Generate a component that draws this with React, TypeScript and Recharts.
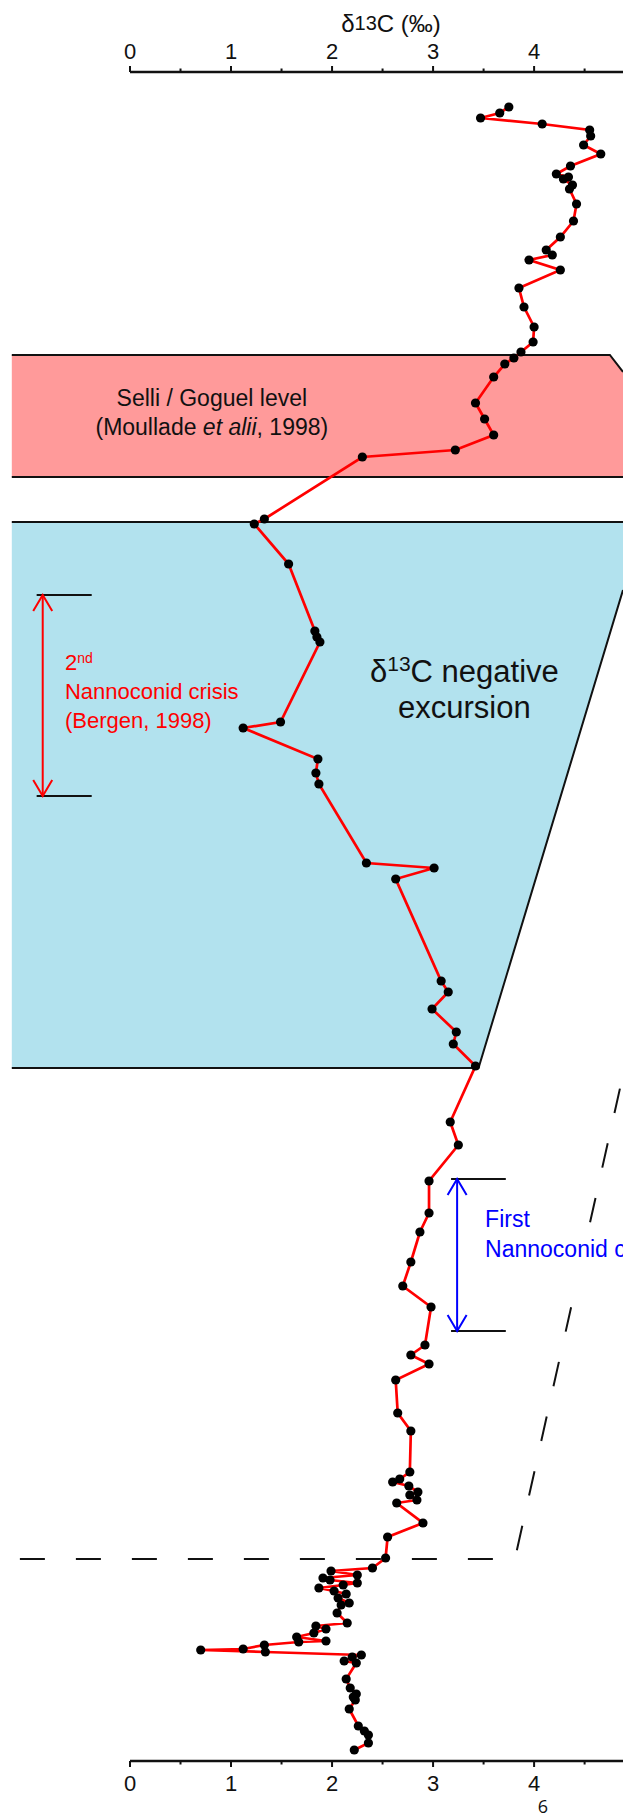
import { LineChart, Line, XAxis, YAxis } from 'recharts'

// δ13C (‰) against height above the base of the log (m), top to bottom
const d13c = [
  3.75, 3.66, 3.47, 4.08, 4.55, 4.56, 4.49, 4.66, 4.36, 4.22, 4.34, 4.29, 4.38, 4.35, 4.42,
  4.39, 4.26, 4.12, 4.18, 3.95, 4.26, 3.85, 3.9, 4.0, 3.99, 3.87, 3.8, 3.71, 3.6,
  3.42, 3.51, 3.6, 3.22, 2.3, 1.33, 1.23, 1.57, 1.83, 1.85, 1.88, 1.49, 1.12,
  1.86, 1.84, 1.87, 2.34, 3.01, 2.63, 3.08, 3.15, 2.99, 3.23, 3.2, 3.42,
  3.17, 3.25, 2.96, 2.96, 2.87, 2.78, 2.7, 2.98, 2.92, 2.78, 2.96, 2.63, 2.65, 2.78,
  2.77, 2.67, 2.6, 2.76, 2.85, 2.77, 2.84, 2.64, 2.9, 2.55, 2.53, 2.4,
  1.99, 2.25, 1.91, 1.98, 2.25, 2.11, 1.87, 2.02, 2.14, 2.06, 2.17, 2.09, 2.05, 2.15, 1.84,
  1.94, 1.82, 1.65, 1.94, 1.67,
  1.33, 1.12, 0.7, 1.34, 2.29, 2.2, 2.12, 2.24, 2.14, 2.18, 2.24, 2.21, 2.23, 2.17, 2.26,
  2.32, 2.36, 2.36, 2.22,
]
const heights = [
  16.54, 16.48, 16.43, 16.37, 16.31, 16.25, 16.16, 16.07, 15.95, 15.87, 15.84, 15.82, 15.76,
  15.72, 15.57, 15.4, 15.24, 15.11, 15.06, 15.01, 14.91, 14.73, 14.54, 14.34, 14.19, 14.09,
  14.03, 13.97, 13.84,
  13.58, 13.42, 13.26, 13.11, 13.04, 12.42, 12.37, 11.97, 11.3, 11.24, 11.19, 10.39, 10.33,
  10.02, 9.88, 9.77, 8.98, 8.93, 8.82, 7.8, 7.69, 7.52, 7.29, 7.17, 6.95,
  6.39, 6.16, 5.8, 5.48, 5.29, 4.99, 4.75, 4.54, 4.16, 4.06, 3.97, 3.81, 3.48, 3.3,
  2.89, 2.82, 2.79, 2.75, 2.69, 2.66, 2.61, 2.58, 2.38, 2.24, 2.03, 1.93,
  1.9, 1.86, 1.83, 1.81, 1.78, 1.76, 1.73, 1.7, 1.67, 1.63, 1.58, 1.56, 1.48, 1.38, 1.35,
  1.32, 1.28, 1.24, 1.2, 1.19,
  1.16, 1.12, 1.11, 1.09, 1.06, 1.04, 1.0, 0.98, 0.82, 0.73, 0.67, 0.64, 0.61, 0.52, 0.35,
  0.3, 0.26, 0.18, 0.11,
]
const xTicks = [0, 0.5, 1, 1.5, 2, 2.5, 3, 3.5, 4, 4.5]
const X_MAX = 4.88
const H_MAX = 16.89

// intervals (m) and corners of the shaded zones
const selli = { top: 14.06, bottom: 12.84, bevelX: 4.75, bevelH: 13.89 }
const oae = { top: 12.39, bottom: 6.93, baseX: 3.45, edgeH: 11.71 }
const nanno2 = { top: 11.66, bottom: 9.65 }
const nanno1 = { top: 5.82, bottom: 4.3 }
const dashedLimit = [
  [-1.09, 2.02],
  [3.81, 2.02],
  [5.2, 8.31],
]
const BAND_LEFT = -1.17

const data = d13c.map((v, i) => ({ v, h: heights[i] }))

const W = 615
const H = 1812
const plot = { left: 122, top: 64, width: W - 122, height: 1689 }
const sx = (v: number) => plot.left + (v / X_MAX) * plot.width
const sy = (h: number) => plot.top + ((H_MAX - h) / H_MAX) * plot.height

const font = "'Liberation Sans', Arial, sans-serif"

function TopTick(props: any) {
  const { x, y, payload } = props
  const major = Number.isInteger(payload.value)
  return (
    <g>
      <line x1={x} x2={x} y1={y} y2={y - (major ? 6 : 3.5)} stroke="#111" strokeWidth={2} />
      {major && (
        <text x={x} y={y - 13} textAnchor="middle" fontSize={22} fontFamily={font} fill="#111">
          {payload.value}
        </text>
      )}
    </g>
  )
}

function BottomTick(props: any) {
  const { x, y, payload } = props
  const major = Number.isInteger(payload.value)
  return (
    <g>
      <line x1={x} x2={x} y1={y} y2={y + (major ? 6 : 3.5)} stroke="#111" strokeWidth={2} />
      {major && (
        <text x={x} y={y + 30} textAnchor="middle" fontSize={22} fontFamily={font} fill="#111">
          {payload.value}
        </text>
      )}
    </g>
  )
}

function Arrow({ x, y1, y2, color }: { x: number; y1: number; y2: number; color: string }) {
  return (
    <g stroke={color} strokeWidth={2} fill="none">
      <line x1={x} x2={x} y1={y1} y2={y2} />
      <polyline points={`${x - 9.5},${y1 + 16} ${x},${y1} ${x + 9.5},${y1 + 16}`} />
      <polyline points={`${x - 9.5},${y2 - 16} ${x},${y2} ${x + 9.5},${y2 - 16}`} />
    </g>
  )
}

function Background() {
  const pink = [
    [BAND_LEFT, selli.top],
    [selli.bevelX, selli.top],
    [X_MAX, selli.bevelH],
    [X_MAX, selli.bottom],
    [BAND_LEFT, selli.bottom],
  ]
  const blue = [
    [BAND_LEFT, oae.top],
    [X_MAX, oae.top],
    [X_MAX, oae.edgeH],
    [oae.baseX, oae.bottom],
    [BAND_LEFT, oae.bottom],
  ]
  const pts = (a: number[][]) => a.map(([v, h]) => `${sx(v)},${sy(h)}`).join(' ')
  return (
    <svg width={W} height={H} style={{ position: 'absolute', left: 0, top: 0 }}>
      <polygon points={pts(pink)} fill="#ff9a9a" />
      <polyline points={pts(pink.slice(0, 3))} fill="none" stroke="#111" strokeWidth={2} />
      <line x1={sx(BAND_LEFT)} x2={W} y1={sy(selli.bottom)} y2={sy(selli.bottom)} stroke="#111" strokeWidth={2} />
      <polygon points={pts(blue)} fill="#b2e2ee" />
      <line x1={sx(BAND_LEFT)} x2={W} y1={sy(oae.top)} y2={sy(oae.top)} stroke="#111" strokeWidth={2} />
      <polyline points={pts(blue.slice(2))} fill="none" stroke="#111" strokeWidth={2} />

      <polyline points={pts(dashedLimit)} fill="none" stroke="#111" strokeWidth={2} strokeDasharray="25 31" />

      <text x={383} y={24} textAnchor="middle" fontSize={24} fontFamily={font} fill="#111">
        δ<tspan fontSize={20} dy={-2}>13</tspan>
        <tspan dy={2}>C (‰)</tspan>
      </text>

      <g fontFamily={font} fontSize={23} fill="#111" textAnchor="middle">
        <text x={sx(0.81)} y={sy(13.55)}>Selli / Goguel level</text>
        <text x={sx(0.81)} y={sy(13.26)}>
          (Moullade <tspan fontStyle="italic">et alii</tspan>, 1998)
        </text>
      </g>

      <g fontFamily={font} fontSize={31} fill="#111" textAnchor="middle">
        <text x={sx(3.31)} y={sy(10.79)}>
          δ<tspan fontSize={21} dy={-11}>13</tspan>
          <tspan dy={11}>C negative</tspan>
        </text>
        <text x={sx(3.31)} y={sy(10.43)}>excursion</text>
      </g>

      <line x1={sx(-0.924)} x2={sx(-0.379)} y1={sy(nanno2.top)} y2={sy(nanno2.top)} stroke="#111" strokeWidth={2} />
      <line x1={sx(-0.924)} x2={sx(-0.379)} y1={sy(nanno2.bottom)} y2={sy(nanno2.bottom)} stroke="#111" strokeWidth={2} />
      <Arrow x={sx(-0.864)} y1={sy(nanno2.top)} y2={sy(nanno2.bottom)} color="#ff0000" />
      <g fontFamily={font} fontSize={22} fill="#ff0000">
        <text x={sx(-0.644)} y={sy(10.91)}>
          2<tspan fontSize={14} dy={-7}>nd</tspan>
        </text>
        <text x={sx(-0.644)} y={sy(10.62)}>Nannoconid crisis</text>
        <text x={sx(-0.644)} y={sy(10.33)}>(Bergen, 1998)</text>
      </g>

      <line x1={sx(3.178)} x2={sx(3.72)} y1={sy(nanno1.top)} y2={sy(nanno1.top)} stroke="#111" strokeWidth={2} />
      <line x1={sx(3.178)} x2={sx(3.72)} y1={sy(nanno1.bottom)} y2={sy(nanno1.bottom)} stroke="#111" strokeWidth={2} />
      <Arrow x={sx(3.238)} y1={sy(nanno1.top)} y2={sy(nanno1.bottom)} color="#0000ff" />
      <rect x={sx(3.47)} y={sy(5.31)} width={W - sx(3.47)} height={sy(4.71) - sy(5.31)} fill="#fff" />
      <g fontFamily={font} fontSize={23} fill="#0000ff">
        <text x={sx(3.515)} y={sy(5.337)}>First</text>
        <text x={sx(3.515)} y={sy(5.043)}>Nannoconid crisis</text>
      </g>

      <text x={535} y={1805} textAnchor="middle" fontSize={18} fontFamily="'Open Sans', sans-serif" fill="#111">
        6
      </text>
    </svg>
  )
}

export default function App() {
  return (
    <div style={{ position: 'relative', width: W, height: H, overflow: 'hidden' }}>
      <Background />
      <div style={{ position: 'absolute', left: 0, top: 0 }}>
        <LineChart
          layout="vertical"
          width={W}
          height={H}
          data={data}
          margin={{ top: 34, right: 0, bottom: 29, left: plot.left }}
        >
          <YAxis type="number" dataKey="h" domain={[0, H_MAX]} reversed hide />
          <XAxis
            xAxisId="t"
            orientation="top"
            type="number"
            domain={[0, X_MAX]}
            ticks={xTicks}
            interval={0}
            height={30}
            tickSize={0}
            tickMargin={0}
            tickLine={false}
            axisLine={{ stroke: '#111', strokeWidth: 2.5 }}
            tick={(p: any) => <TopTick {...p} />}
            allowDataOverflow
          />
          <XAxis
            xAxisId="b"
            orientation="bottom"
            type="number"
            domain={[0, X_MAX]}
            ticks={xTicks}
            interval={0}
            height={30}
            tickSize={0}
            tickMargin={0}
            tickLine={false}
            axisLine={{ stroke: '#111', strokeWidth: 2.5 }}
            tick={(p: any) => <BottomTick {...p} />}
            allowDataOverflow
          />
          <Line
            xAxisId="b"
            dataKey="v"
            stroke="#ff0000"
            strokeWidth={2.7}
            dot={{ r: 4.6, fill: '#000', stroke: '#000', strokeWidth: 0 }}
            activeDot={false}
            isAnimationActive={false}
          />
        </LineChart>
      </div>
    </div>
  )
}
